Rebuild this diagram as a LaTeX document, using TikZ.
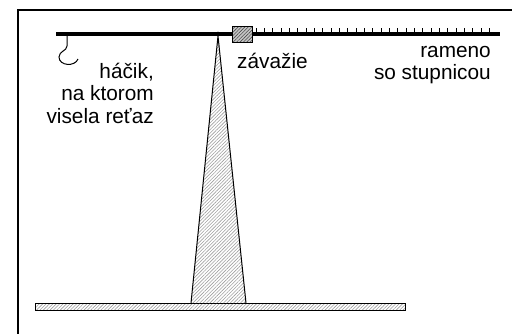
\documentclass[tikz,border=0pt]{standalone}
\usepackage{fontspec}
\setmainfont{Liberation Sans}
\usetikzlibrary{patterns.meta}
\tikzset{hatch/.style={pattern={Lines[angle=45,distance=2.4pt,line width=0.6pt]},pattern color=gray!75}}
\tikzset{lbl/.style={inner sep=0pt,align=right,font=\fontsize{20.8}{22.5}\selectfont}}

\begin{document}
\begin{tikzpicture}[x=1pt,y=-1pt,line join=miter]

\tikzstyle{tick}=[line width=0.7pt]

 \useasboundingbox (0,0) rectangle (512,333);
 \draw[line width=2pt] (18,10) rectangle (530,350);

 % podstavec a stojan
 \coordinate (apex) at (218,36);
 \coordinate (footL) at (191,303);
 \coordinate (footR) at (246,303);
 \draw[hatch,line width=0.9pt] (35,303) rectangle (405,310);
 \fill[hatch] (apex) -- (footL) -- (footR) -- cycle;
 \draw[line width=1pt] (footL) -- (apex) -- (footR);

 % rameno, stupnica a zavazie
 \draw[line width=4pt] (56,34) -- (500,34);
 \foreach \i in {0,...,28}
   \draw[tick] (256+\i*8.33,28) -- ++(0,4);
 \fill[gray!45] (232,26) rectangle (252,42);
 \draw[hatch,pattern color=black!70,line width=0.9pt] (232,26) rectangle (252,42);

 % hacik
 \draw[line width=1pt] (67,36) -- (67,46)
   .. controls (67,51) and (59,51) .. (59,57)
   .. controls (59,66) and (75,67) .. (78,59);

 % popisy (base = posledny riadok)
 \node[lbl,anchor=base east] (hacik) at (154,123) {háčik,\\na ktorom\\visela reťaz};
 \node[lbl,anchor=base west] (zavazie) at (237,68) {závažie};
 \node[lbl,anchor=base east] (rameno) at (491,79.5) {rameno\\so stupnicou};
\end{tikzpicture}
\end{document}
